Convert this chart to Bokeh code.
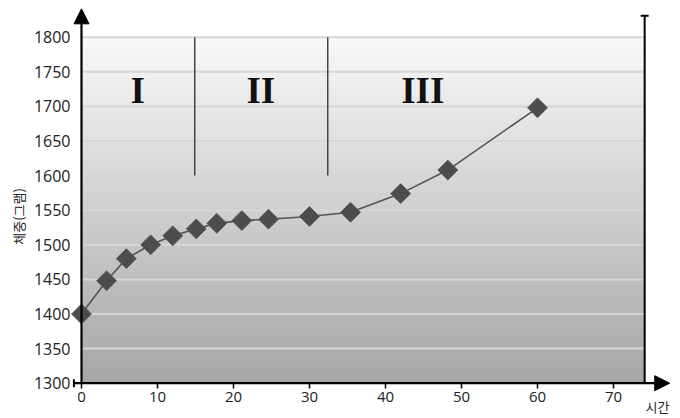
import numpy as np
from bokeh.plotting import figure
from bokeh.models import Range1d, Label, Arrow, NormalHead, TeeHead, FixedTicker
from bokeh.embed import file_html
from bokeh.resources import INLINE

# ---- data ----
hours = [0, 3.3, 5.9, 9.1, 12.0, 15.1, 17.8, 21.1, 24.6, 30.0, 35.4, 42.0, 48.2, 60.0]
weight = [1400, 1448, 1480, 1500, 1513, 1523, 1531, 1535, 1537, 1541, 1547, 1574, 1608, 1698]
x_ticks = [0, 10, 20, 30, 40, 50, 60, 70]
y_ticks = [1300, 1350, 1400, 1450, 1500, 1550, 1600, 1650, 1700, 1750, 1800]
phase_names = ["I", "II", "III"]
phase_label_x = [7.4, 23.6, 44.9]
phase_bounds = [14.9, 32.4]
y_label = "체중(그램)"
x_label = "시간"

# ---- layout constants ----
W, H = 676, 416
PX_X = 7.6      # px per hour
PX_Y = 0.692    # px per gram
ORIG_X, ORIG_Y = 81, 382.7   # canvas px of (0, 1300)
X0 = -ORIG_X / PX_X
X1 = (W - ORIG_X) / PX_X
Y0 = 1300 - (H - ORIG_Y) / PX_Y
Y1 = 1300 + ORIG_Y / PX_Y
BASE_Y = 1300
PANEL_X = 74.1
PANEL_Y = 1800

p = figure(frame_width=W, frame_height=H, output_backend="svg",
           toolbar_location=None, x_range=Range1d(X0, X1), y_range=Range1d(Y0, Y1),
           min_border_left=0, min_border_right=0, min_border_top=0, min_border_bottom=0)
p.outline_line_color = None
p.background_fill_color = "white"
p.border_fill_color = "white"
p.xgrid.visible = False
p.ygrid.visible = False

# gradient panel
n = 300
t = np.linspace(0, 1, n)  # 0 bottom -> 1 top
top = np.array([249, 249, 249]); bot = np.array([166, 166, 166])
cols = (bot[None, :] + (top - bot)[None, :] * t[:, None]).astype(np.uint32)
img = np.empty((n, 1), dtype=np.uint32)
view = img.view(dtype=np.uint8).reshape((n, 1, 4))
view[:, 0, 0] = cols[:, 0]
view[:, 0, 1] = cols[:, 1]
view[:, 0, 2] = cols[:, 2]
view[:, 0, 3] = 255
p.image_rgba(image=[img], x=0, y=BASE_Y, dw=PANEL_X, dh=PANEL_Y - BASE_Y)

# grid lines
gy = [v for v in y_ticks if v > BASE_Y]
p.segment(x0=[0] * len(gy), y0=gy, x1=[PANEL_X] * len(gy), y1=gy,
          line_color="#d6d6d6", line_width=2)

# phase dividers
p.segment(x0=phase_bounds, y0=[1600] * 2, x1=phase_bounds, y1=[PANEL_Y] * 2,
          line_color="#454545", line_width=1.5)

# phase labels
p.text(x=phase_label_x, y=[1723] * 3, text=phase_names,
       text_font="Liberation Serif", text_font_size="37px", text_font_style="bold",
       text_align="center", text_baseline="middle", text_color="#111111")

# data
p.line(hours, weight, line_color="#555555", line_width=1.6)
p.scatter(hours, weight, marker="square", size=14, angle=np.pi / 4,
          fill_color="#4c4c4c", line_color="#585858", line_width=1)

# axes (fixed inside the frame)
xa, ya = p.xaxis[0], p.yaxis[0]
xa.fixed_location = BASE_Y
ya.fixed_location = 0
for ax in (xa, ya):
    ax.axis_line_color = None
    ax.minor_tick_line_color = None
    ax.major_label_text_font = "Open Sans"
    ax.major_label_text_color = "#222222"
xa.ticker = FixedTicker(ticks=x_ticks)
ya.ticker = FixedTicker(ticks=y_ticks)
xa.major_tick_in = 0
xa.major_tick_out = 5
xa.major_tick_line_color = "black"
xa.major_tick_line_width = 1.5
xa.major_label_standoff = 4
xa.major_label_text_font_size = "15px"
ya.major_tick_in = 0
ya.major_tick_out = 0
ya.major_label_standoff = 11
ya.major_label_text_font_size = "16px"

# axis arrows
p.add_layout(Arrow(end=NormalHead(size=15, fill_color="black", line_color="black"),
                   x_start=0, y_start=BASE_Y, x_end=0, y_end=1841,
                   line_color="black", line_width=2.2))
p.add_layout(Arrow(start=TeeHead(size=8, line_color="black", line_width=2),
                   end=NormalHead(size=15, fill_color="black", line_color="black"),
                   x_start=-1.0, y_start=BASE_Y, x_end=77.4, y_end=BASE_Y,
                   line_color="black", line_width=2.2))
p.add_layout(Arrow(end=TeeHead(size=8, line_color="black", line_width=2),
                   x_start=PANEL_X, y_start=BASE_Y, x_end=PANEL_X, y_end=1831,
                   line_color="black", line_width=2))

# axis titles
p.add_layout(Label(x=-8.3, y=1541, text=y_label, angle=np.pi / 2, text_align="center",
                   text_baseline="middle", text_font="Noto Sans CJK KR",
                   text_font_size="13px", text_color="#222222"))
p.add_layout(Label(x=75.8, y=1267, text=x_label, text_align="center",
                   text_baseline="middle", text_font="Noto Sans CJK KR",
                   text_font_size="13px", text_color="#222222"))

open("out.html", "w").write(file_html(p, INLINE))
